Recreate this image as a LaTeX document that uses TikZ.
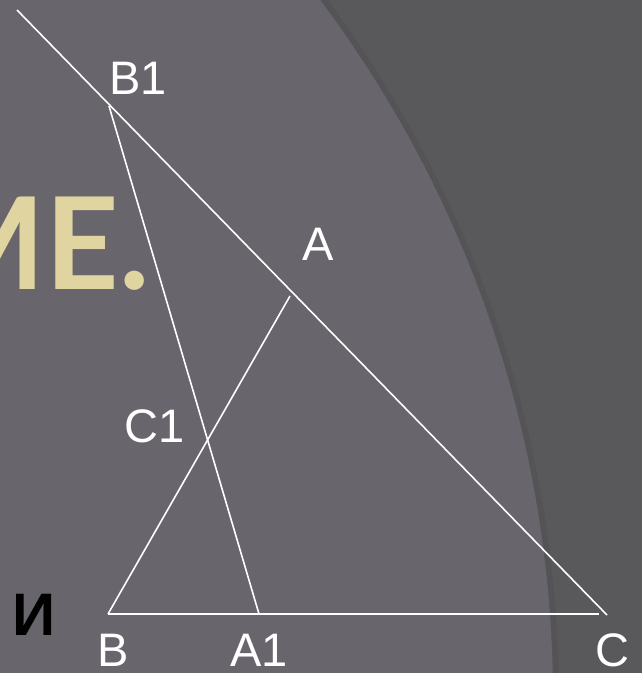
\documentclass[tikz,border=0pt]{standalone}
\usepackage{fontspec}
\setmainfont{Liberation Sans}
\newfontfamily\mefont{Lato}
\definecolor{bglight}{RGB}{104,101,108}
\definecolor{bgdark}{RGB}{89,88,91}
\definecolor{bgshadow}{RGB}{84,84,87}
\definecolor{beige}{RGB}{224,213,160}
\begin{document}
\begin{tikzpicture}[x=1pt,y=-1pt,
  seg/.style={draw=white,line width=1.6pt},
  lbl/.style={text=white,inner sep=0pt,font=\fontsize{47}{47}\selectfont}]
\useasboundingbox (0,0) rectangle (642,673);
\clip (0,0) rectangle (642,673);
% background
\fill[bgdark] (0,0) rectangle (642,673);
\draw[bgshadow,line width=6pt] (-615,700) circle (1171pt);
\fill[bglight] (-615,700) circle (1168pt);
% big partial title text
\node[anchor=base east,inner sep=0pt,text=beige,font=\mefont\bfseries\fontsize{128}{128}\selectfont] (title) at (150,289) {МЕ.};
\node[anchor=base west,inner sep=0pt,text=black,font=\bfseries\fontsize{60}{60}\selectfont] (iletter) at (12,635) {И};
% points
\coordinate (T) at (17,10);
\coordinate (B1) at (109,106);
\coordinate (C) at (607,615);
\coordinate (B) at (108,614);
\coordinate (A1) at (259,614);
\coordinate (Cend) at (599,614);
\coordinate (A) at (290,296);
% segments
\draw[seg] (T) -- (C);
\draw[seg] (B1) -- (A1);
\draw[seg] (B) -- (A);
\draw[seg] (B) -- (Cend);
% labels
\node[lbl] (lB1) at (138,78) {B1};
\node[lbl] (lA) at (318,244) {A};
\node[lbl] (lC1) at (155,426) {C1};
\node[lbl] (lB) at (113,650) {B};
\node[lbl] (lA1) at (259,650) {A1};
\node[lbl] (lC) at (612,650) {C};
\end{tikzpicture}
\end{document}
